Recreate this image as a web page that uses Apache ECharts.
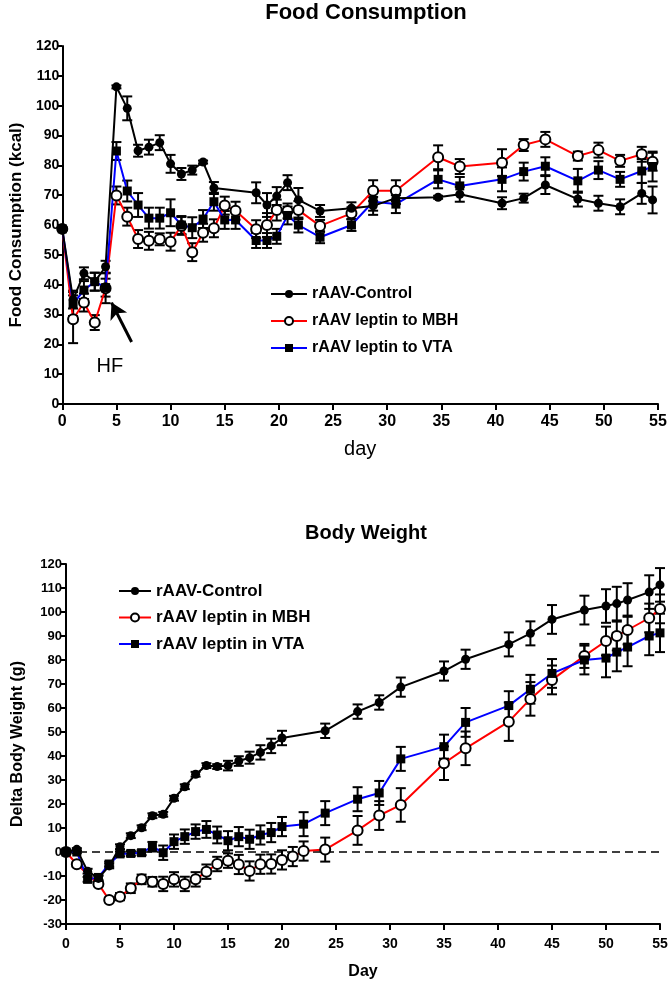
<!DOCTYPE html>
<html><head><meta charset="utf-8">
<script src="https://cdn.jsdelivr.net/npm/echarts@6/dist/echarts.min.js"></script>
<style>html,body{margin:0;padding:0;background:#fff}#c{width:672px;height:981px}</style>
</head><body><div id="c"></div>
<script>
// ===== Food Consumption (top) =====
const fcCtrlDays = [0,1,2,3,4,5,6,7,8,9,10,11,12,13,14,17.9,18.9,19.8,20.8,21.8,23.8,26.7,28.7,30.8,34.7,36.7,40.6,42.6,44.6,47.6,49.5,51.5,53.5,54.5];
const fcCtrl     = [58.7,35,43.8,41,46,106.3,99.1,84.9,86.1,87.6,80.5,77.1,78.4,81.1,72.4,70.8,66.7,69.7,74.2,68.4,64.7,65.6,66.4,69.0,69.3,70.3,67.3,69.0,73.4,68.7,67.3,66.1,70.6,68.4];
const fcCtrlErr  = [0.5,3,2,3,2,0.5,4,2,2.5,2.5,3,2,1.5,0.5,2,3.5,4,3,2.5,4,2,2,3,2,0.5,2.5,2,1.5,3,2.5,2.5,2.5,3.5,4.5];

const fcMbhDays = [0,1,2,3,4,5,6,7,8,9,10,11,12,13,14,15,16,17.9,18.9,19.8,20.8,21.8,23.8,26.7,28.7,30.8,34.7,36.7,40.6,42.6,44.6,47.6,49.5,51.5,53.5,54.5];
const fcMbh     = [58.7,28.4,34.0,27.3,38.8,69.9,62.8,55.3,54.7,55.2,54.4,59.7,50.9,57.4,58.9,66.5,64.8,58.6,60.0,65.0,64.7,65.0,59.7,63.9,71.5,71.5,82.7,79.6,80.9,86.8,88.7,83.1,85.1,81.5,83.7,81.2];
const fcMbhErr  = [0.5,8,3,2.5,5,3,3,3,3,2,3,3,3,3,3,3,3,3,4,3.5,2.5,3,2,2,3.5,3.5,4,2.5,4.5,2,2.5,1.5,2.5,2,2.5,3];

const fcVtaDays = [0,1,2,3,4,5,6,7,8,9,10,11,12,13,14,15,16,17.9,18.9,19.8,20.8,21.8,23.8,26.7,28.7,30.8,34.7,36.7,40.6,42.6,44.6,47.6,49.5,51.5,53.5,54.5];
const fcVta     = [58.7,33.5,38.2,41.0,39.0,84.8,71.4,66.7,62.3,62.3,64.1,60.0,59.1,62.0,67.8,61.7,61.7,54.8,54.8,56.2,63.2,60.0,55.9,60.0,67.8,67.0,75.3,73.1,75.3,77.9,79.7,74.8,78.4,75.3,78.1,79.6];
const fcVtaErr  = [0.5,4,3,3,3,3,3.5,4,3.5,3.5,4.5,3,3.5,3,3,3,3,2.5,2.5,2.5,3,2.5,2,2,3,3,3,3,4,3,3,4,3,2.5,4,5];

// ===== Body Weight (bottom) =====
const bwCtrlDays = [0,1,2,3,4,5,6,7,8,9,10,11,12,13,14,15,16,17,18,19,20,24,27,29,31,35,37,41,43,45,48,50,51,52,54,55];
const bwCtrl     = [0,1.1,-8,-11,-5.8,2.2,6.8,10.1,15.1,15.7,22.4,27.2,32.4,36.0,35.6,36.0,37.9,39.3,41.5,44.2,47.5,50.5,58.5,62.3,68.7,75.4,80.3,86.5,91.1,96.9,100.8,102.5,103.5,105,108.3,111.3];
const bwCtrlErr  = [0.5,0.5,1,1,1,1,1,1,1,1,1,1,1,1,1,2,2,2.5,3,3,3,3,3,3,4,4,4,5,5,6,6,7,7,7,7,7];

const bwMbhDays = [0,1,3,4,5,6,7,8,9,10,11,12,13,14,15,16,17,18,19,20,21,22,24,27,29,31,35,37,41,43,45,48,50,51,52,54,55];
const bwMbh     = [0,-5.1,-13.3,-20,-18.6,-15.1,-11.4,-12.4,-13.3,-11.4,-13.3,-11.4,-8.2,-5.0,-3.6,-5.2,-7.9,-5.1,-5.0,-3.3,-1.9,0.4,1.0,9.0,15.2,19.6,37.0,43.2,54.3,63.8,71.7,81.7,87.9,90,92.5,97.5,101.3];
const bwMbhErr  = [0.5,1,1,1,1.5,2,2,2,3,3,3,3,3,3,3,4,4,4,4,4,4,4,5,6,6,7,7,7,8,7,6,5,6,6,6,6,6];

const bwVtaDays = [0,1,2,3,4,5,6,7,8,9,10,11,12,13,14,15,16,17,18,19,20,22,24,27,29,31,35,37,41,43,45,48,50,51,52,54,55];
const bwVta     = [0,0,-11.4,-10.6,-5,-0.8,-0.6,-0.3,2.2,-0.3,4.3,6.4,8.5,9.4,7.1,4.7,6.4,5.3,7.1,8.1,10.6,11.6,16.2,22.0,24.6,38.8,43.9,54.0,61.0,67.8,74.4,80,80.8,83.3,85.4,90,91.3];
const bwVtaErr  = [0.5,0.5,1,1,1,1,1,1,2,3,3,3,3,3.5,3.5,4,4,4,4,4,4,5,5,5,5,5,5,6,6,6,6,6,8,8,8,8,8];

const xTicks = {min:0, max:55, interval:5};

const fc = {ctrl:'rAAV-Control', mbh:'rAAV leptin to MBH', vta:'rAAV leptin to VTA'};
const bw = {ctrl:'rAAV-Control ', mbh:'rAAV leptin in MBH', vta:'rAAV leptin in VTA'};

function pts(d, v){ return d.map((x,i)=>[x, v[i]]); }
function errPts(d, v, e){ return d.map((x,i)=>[x, v[i], e[i]]); }

const NARROW = "'Liberation Sans Narrow', 'Liberation Sans', Arial, sans-serif";
const SANS = "'Liberation Sans', Arial, sans-serif";

function errSeries(name, d, v, e, gi){
  return {
    type:'custom', name: name+' err', xAxisIndex:gi, yAxisIndex:gi, z:3, silent:true,
    data: errPts(d,v,e),
    renderItem: function(params, api){
      const x = api.value(0), y = api.value(1), er = api.value(2);
      const t = api.coord([x, y+er]), b = api.coord([x, y-er]);
      const hw = 5;
      const st = {stroke:'#000', lineWidth:2};
      return {type:'group', children:[
        {type:'line', shape:{x1:t[0],y1:t[1],x2:b[0],y2:b[1]}, style:st},
        {type:'line', shape:{x1:t[0]-hw,y1:t[1],x2:t[0]+hw,y2:t[1]}, style:st},
        {type:'line', shape:{x1:b[0]-hw,y1:b[1],x2:b[0]+hw,y2:b[1]}, style:st}
      ]};
    }
  };
}

function lineSeries(name, d, v, gi, kind){
  const s = {
    type:'line', name:name, xAxisIndex:gi, yAxisIndex:gi, data:pts(d,v), z:5,
    symbolSize:9, showSymbol:true, animation:false
  };
  if(kind==='ctrl'){
    s.symbol='circle'; s.lineStyle={color:'#000', width:2};
    s.itemStyle={color:'#000', borderColor:'#000', borderWidth:0};
  } else if(kind==='mbh'){
    s.symbol='circle'; s.symbolSize=10; s.lineStyle={color:'#ff0000', width:2};
    s.itemStyle={color:'#fff', borderColor:'#000', borderWidth:2};
  } else {
    s.symbol='rect'; s.lineStyle={color:'#0000ff', width:2};
    s.itemStyle={color:'#000', borderColor:'#000', borderWidth:0};
  }
  return s;
}

function axisCommon(fontFam, fs){
  return {
    axisLine:{show:true, onZero:false, lineStyle:{color:'#000', width:2}},
    axisTick:{show:true, inside:false, length:6, lineStyle:{color:'#000', width:2}},
    splitLine:{show:false},
    axisLabel:{color:'#000', fontWeight:'bold', fontFamily:fontFam, fontSize:fs},
    nameTextStyle:{color:'#000', fontWeight:'bold', fontFamily:SANS}
  };
}

const chart = echarts.init(document.getElementById('c'), null, {renderer:'canvas'});

const topX = Object.assign(axisCommon(NARROW,16), {type:'value', gridIndex:0, min:xTicks.min, max:xTicks.max, interval:xTicks.interval,
  name:'day', nameLocation:'middle', nameGap:35});
topX.nameTextStyle = {color:'#000', fontFamily:NARROW, fontSize:20};
topX.axisLabel.margin = 10;
const topY = Object.assign(axisCommon(NARROW,14), {type:'value', gridIndex:0, min:0, max:120, interval:10,
  name:'Food Consumption (kcal)', nameLocation:'middle', nameGap:37});
topY.nameTextStyle.fontSize = 17;
topY.axisLabel.margin = 3;
topY.axisTick.length = 5;

const botX = Object.assign(axisCommon(SANS,14), {type:'value', gridIndex:1, min:xTicks.min, max:xTicks.max, interval:xTicks.interval,
  name:'Day', nameLocation:'middle', nameGap:40});
botX.nameTextStyle.fontSize = 16;
botX.axisLabel.margin = 13;
const botY = Object.assign(axisCommon(SANS,13), {type:'value', gridIndex:1, min:-30, max:120, interval:10,
  name:'Delta Body Weight (g)', nameLocation:'middle', nameGap:40});
botY.nameTextStyle.fontSize = 16;
botY.axisLabel.margin = 4;
botY.axisTick.length = 5;

const series = [
  errSeries(fc.ctrl, fcCtrlDays, fcCtrl, fcCtrlErr, 0),
  errSeries(fc.mbh, fcMbhDays, fcMbh, fcMbhErr, 0),
  errSeries(fc.vta, fcVtaDays, fcVta, fcVtaErr, 0),
  lineSeries(fc.mbh, fcMbhDays, fcMbh, 0, 'mbh'),
  lineSeries(fc.vta, fcVtaDays, fcVta, 0, 'vta'),
  lineSeries(fc.ctrl, fcCtrlDays, fcCtrl, 0, 'ctrl'),
  errSeries(bw.ctrl, bwCtrlDays, bwCtrl, bwCtrlErr, 1),
  errSeries(bw.mbh, bwMbhDays, bwMbh, bwMbhErr, 1),
  errSeries(bw.vta, bwVtaDays, bwVta, bwVtaErr, 1),
  lineSeries(bw.mbh, bwMbhDays, bwMbh, 1, 'mbh'),
  lineSeries(bw.vta, bwVtaDays, bwVta, 1, 'vta'),
  lineSeries(bw.ctrl, bwCtrlDays, bwCtrl, 1, 'ctrl')
];
// HF arrow on top chart
series[5].markLine = {
  silent:true, animation:false, label:{show:false},
  lineStyle:{color:'#000', width:3, type:'solid'},
  symbol:['none','arrow'], symbolSize:[14,16],
  data:[[{coord:[6.4,20.8]},{coord:[4.55,34]}]]
};
// zero line on bottom chart
series[11].markLine = {
  silent:true, animation:false, label:{show:false}, symbol:['none','none'],
  lineStyle:{color:'#000', width:1.5, type:[8,5]},
  data:[{yAxis:0}]
};

const legendText = {color:'#000', fontWeight:'bold', fontFamily:SANS};

chart.setOption({
  animation:false,
  backgroundColor:'#fff',
  title:[
    {text:'Food Consumption', left:361, top:-3, textAlign:'center',
      textStyle:{fontFamily:NARROW, fontWeight:'bold', fontSize:22, color:'#000'}},
    {text:'Body Weight', left:361, top:518, textAlign:'center',
      textStyle:{fontFamily:SANS, fontWeight:'bold', fontSize:20, color:'#000'}}
  ],
  grid:[
    {left:61, right:14, top:46, height:358},
    {left:66, right:12, top:564, height:360}
  ],
  xAxis:[topX, botX],
  yAxis:[topY, botY],
  legend:[
    {orient:'vertical', left:265, top:279, itemWidth:36, itemHeight:10, itemGap:7,
      data:[fc.ctrl, fc.mbh, fc.vta],
      textStyle:Object.assign({fontSize:16, lineHeight:20}, legendText)},
    {orient:'vertical', left:113, top:576, itemWidth:32, itemHeight:10, itemGap:6.5,
      data:[bw.ctrl, bw.mbh, bw.vta],
      textStyle:Object.assign({fontSize:17, lineHeight:20}, legendText)}
  ],
  series:series
});

// HF label positioned through the axis scale
const hfPos = chart.convertToPixel({xAxisIndex:0, yAxisIndex:0}, [4.4, 12.7]);
chart.setOption({graphic:[{type:'text', x:hfPos[0], y:hfPos[1],
  style:{text:'HF', fontFamily:SANS, fontSize:20, fill:'#000', align:'center', verticalAlign:'middle'}}]});
</script>
</body></html>
